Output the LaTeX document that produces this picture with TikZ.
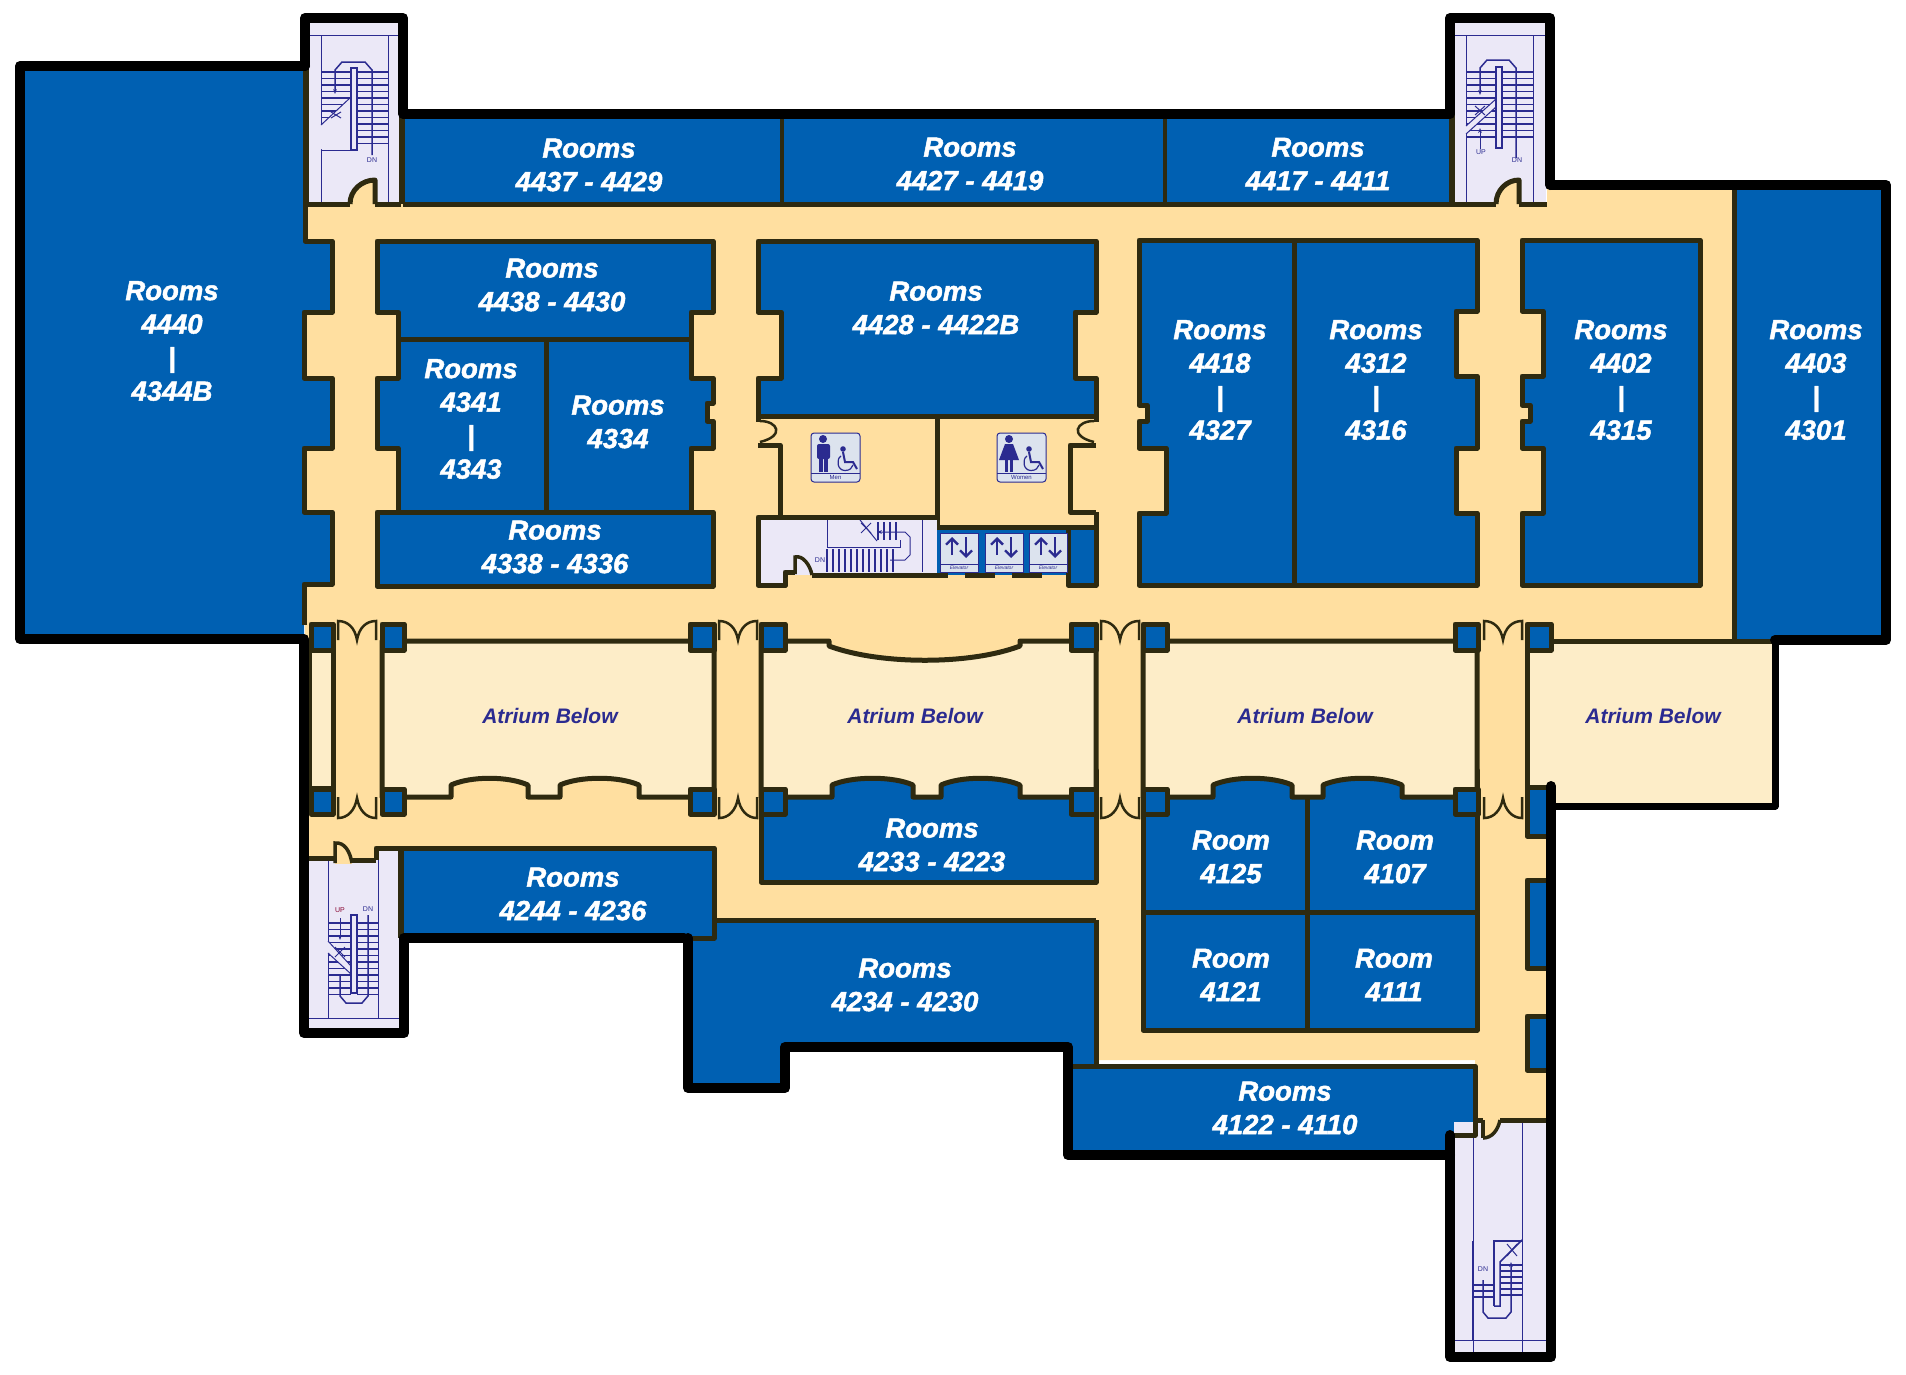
\documentclass[tikz,border=0pt]{standalone}
\usepackage{fontspec}
\usetikzlibrary{arrows.meta}
\newfontfamily\roomfont[BoldItalicFeatures={FakeBold=1.7}]{Liberation Sans}
\newfontfamily\signfont{Liberation Sans}
\definecolor{roomblue}{HTML}{0060B2}
\definecolor{hallyellow}{HTML}{FFDFA0}
\definecolor{atriumcream}{HTML}{FDEDC8}
\definecolor{wallbrown}{HTML}{2E2A10}
\definecolor{stairlav}{HTML}{EBE8F7}
\definecolor{stairblue}{HTML}{2B2B90}
\definecolor{signgray}{HTML}{DCE3EE}
% arch cut into the lower atrium wall
\newcommand{\archcut}[2]{-- (#1,797) -- (#1,785) .. controls (#1-20,776) and (#2+20,776) .. (#2,785) -- (#2,797)}
\begin{document}
\begin{tikzpicture}
    [x=1pt,y=-1pt,
        room/.style={fill=roomblue},
        wall/.style={draw=wallbrown,line width=5pt,line join=round},
        outer/.style={draw=black,line width=10pt,line join=round,line cap=round},
        atrium/.style={fill=atriumcream,wall},
        column/.style={fill=roomblue,wall},
        door/.style={draw=wallbrown,line width=2.5pt},
        thinst/.style={draw=stairblue,line width=1pt},
        tread/.style={draw=stairblue,line width=1.2pt},
        roomtxt/.style={text=white,align=center,inner sep=0pt,font=\roomfont\bfseries\itshape\fontsize{27.5}{33.5}\selectfont},
        atriumtxt/.style={text=stairblue,inner sep=0pt,font=\signfont\bfseries\itshape\fontsize{21}{24}\selectfont},
        tinytxt/.style={text=stairblue,inner sep=0pt,font=\signfont\fontsize{7}{8}\selectfont},
        sign/.style={fill=signgray,draw=stairblue,line width=1pt,rounded corners=3pt},
    ]
\useasboundingbox (0,0) rectangle (1906,1374);

%%%% hall floor
\fill[hallyellow] (305,204) -- (1547,204) -- (1547,185) -- (1734,185) -- (1734,640) -- (1550,640) -- (1550,1122) -- (1475,1122) -- (1475,1060) -- (1096,1060) -- (1096,920) -- (714,920) -- (714,850) -- (376,850) -- (376,860) -- (305,860) -- cycle;

%%%% big rooms
\fill[room] (20,66) -- (305,66) -- (305,241) -- (332,241) -- (332,312) -- (304,312) -- (304,378) -- (332,378) -- (332,448) -- (304,448) -- (304,512) -- (332,512) -- (332,584) -- (304,584) -- (304,640) -- (20,640) -- cycle;
\draw[wall] (305,119) -- (305,241) -- (332,241) -- (332,312) -- (304,312) -- (304,378) -- (332,378) -- (332,448) -- (304,448) -- (304,512) -- (332,512) -- (332,584) -- (304,584) -- (304,625);
\fill[room] (403,114) rectangle (1450,204);
\draw[wall] (403,204) -- (1450,204);
\draw[wall,line width=4pt] (782,114) -- (782,204);
\draw[wall,line width=4pt] (1165,114) -- (1165,204);

\draw[room,wall] (377,241) -- (713,241) -- (713,312) -- (691,312) -- (691,378) -- (713,378) -- (713,403) -- (707,403) -- (707,421) -- (713,421) -- (713,448) -- (691,448) -- (691,512) -- (713,512) -- (713,586) -- (377,586) -- (377,512) -- (398,512) -- (398,448) -- (377,448) -- (377,378) -- (398,378) -- (398,312) -- (377,312) -- cycle;
\draw[wall] (398,339) -- (691,339);
\draw[wall] (546,339) -- (546,512);
\draw[wall] (398,512) -- (691,512);

\draw[room,wall] (758,241) -- (1096,241) -- (1096,312) -- (1075,312) -- (1075,378) -- (1096,378) -- (1096,416) -- (758,416) -- (758,378) -- (781,378) -- (781,312) -- (758,312) -- cycle;
\draw[room,wall] (1139,240) -- (1477,240) -- (1477,311) -- (1456,311) -- (1456,376) -- (1477,376) -- (1477,448) -- (1456,448) -- (1456,513) -- (1477,513) -- (1477,585) -- (1139,585) -- (1139,513) -- (1166,513) -- (1166,448) -- (1139,448) -- (1139,421) -- (1147,421) -- (1147,405) -- (1139,405) -- cycle;
\draw[wall] (1294,240) -- (1294,585);
\draw[room,wall] (1522,240) -- (1700,240) -- (1700,585) -- (1522,585) -- (1522,513) -- (1543,513) -- (1543,448) -- (1522,448) -- (1522,421) -- (1530,421) -- (1530,405) -- (1522,405) -- (1522,376) -- (1543,376) -- (1543,311) -- (1522,311) -- cycle;
\fill[room] (1734,185) rectangle (1886,640);
\draw[wall] (1734,185) -- (1734,641);

%%%% restrooms and core
\draw[door] (760,421) .. controls (778,421) and (785,436) .. (760,442);
\draw[door] (1094,421) .. controls (1076,421) and (1069,436) .. (1094,442);
\draw[wall] (758,416) -- (758,422);
\draw[wall] (1096,416) -- (1096,422);
\draw[wall] (758,445) -- (780,445) -- (780,517);
\draw[wall] (1096,445) -- (1070,445) -- (1070,512) -- (1096,512);
\draw[wall] (937,416) -- (937,575);
\fill[stairlav] (758,517) rectangle (937,575);
\fill[stairlav] (758,575) rectangle (785,585);
\fill[roomblue] (937,528) rectangle (1096,575);
\fill[room] (1068,528) rectangle (1096,585);
\draw[wall] (937,527) -- (1096,527);
\draw[wall] (937,517) -- (758,517) -- (758,585) -- (785,585) -- (785,572) -- (795,572);
\draw[door,line width=3.5pt] (795,574) -- (795,557) .. controls (803,555) and (810,565) .. (812,575);
\fill[hallyellow] (790,577) rectangle (1065,590);
\draw[wall] (812,575) -- (948,575);
\draw[wall] (965,575) -- (995,575);
\draw[wall] (1012,575) -- (1042,575);
\draw[wall] (1068,528) -- (1068,585) -- (1096,585) -- (1096,512);
\draw[wall] (758,585) -- (785,585) -- (785,575);

% central stair
\draw[thinst] (827,520) -- (827,547) -- (900,547) -- (900,540);
\draw[thinst] (922,520) -- (922,572);
\foreach \x in {827,833,...,893} \draw[tread] (\x,549) -- (\x,572);
\foreach \x in {878,884,...,896} \draw[tread] (\x,522) -- (\x,540);
\draw[thinst,-{Stealth[length=5pt]}] (890,560) -- (905,560) -- (910,555) -- (910,537) -- (905,532) -- (877,532);
\draw[thinst] (860,520) -- (877,541);
\draw[thinst] (861,533) -- (871,523);
\draw[thinst] (861,523) -- (871,533);
\node[tinytxt] (dnc) at (820,560) {DN};

% rest room signs
\foreach \x/\t in {811/Men,997/Women}{
  \draw[sign] (\x,433) rectangle (\x+49,482);
  \draw[stairblue,line width=1pt] (\x,473) -- (\x+49,473);
  \node[tinytxt,font=\signfont\fontsize{6}{7}\selectfont] (sign\t) at (\x+24.5,477.5) {\t};
  \fill[stairblue] (\x+32,449) circle (2.8pt);
  \draw[stairblue,line width=2pt] (\x+32,452) -- (\x+34,462) -- (\x+42,462) -- (\x+46,469);
  \draw[stairblue,line width=1.2pt] (\x+30,456) .. controls (\x+25,459) and (\x+26,470.5) .. (\x+34,470.5) .. controls (\x+39,470.5) and (\x+41,468) .. (\x+42,465);
}
\fill[stairblue] (823,439) circle (4pt);
\fill[stairblue,rounded corners=2pt] (817,444) rectangle (830,459);
\fill[stairblue] (819,458) rectangle (823,472);
\fill[stairblue] (824,458) rectangle (828,472);
\fill[stairblue] (1009,439) circle (4pt);
\fill[stairblue] (1005,444) -- (1013,444) -- (1019,460) -- (999,460) -- cycle;
\fill[stairblue] (1005,459) rectangle (1008,472);
\fill[stairblue] (1010,459) rectangle (1013,472);

% elevators
\foreach \x in {940,985,1029}{
  \draw[fill=signgray,draw=stairblue,line width=1pt] (\x,533) rectangle (\x+38,572);
  \draw[stairblue,line width=1pt] (\x,564) -- (\x+38,564);
  \draw[stairblue,line width=2.3pt,-{Straight Barb[length=6pt,width=12pt]}] (\x+12,555) -- (\x+12,537);
  \draw[stairblue,line width=2.3pt,-{Straight Barb[length=6pt,width=12pt]}] (\x+26,537) -- (\x+26,558);
  \node[tinytxt,font=\signfont\itshape\fontsize{5}{6}\selectfont] (elev\x) at (\x+19,568) {Elevator};
}

%%%% lower rooms, then the atrium over them
\draw[room,wall] (761,770) rectangle (1096,882);
\draw[room,wall] (1143,770) rectangle (1477,1030);
\draw[wall] (1307,790) -- (1307,1030);
\draw[wall] (1143,912) -- (1477,912);

\draw[atrium] (309,650) rectangle (333,788);
\draw[atrium] (382,641) -- (714,641) -- (714,797) \archcut{639}{560} \archcut{528}{451} -- (382,797) -- cycle;
\draw[atrium] (761,641) -- (829,641) -- (829,646) .. controls (880,665) and (970,665) .. (1020,646) -- (1020,641) -- (1096,641) -- (1096,797) \archcut{1020}{941} \archcut{913}{832} -- (761,797) -- cycle;
\draw[atrium] (1143,641) -- (1477,641) -- (1477,797) \archcut{1402}{1323} \archcut{1292}{1213} -- (1143,797) -- cycle;
\draw[atrium] (1527,641) rectangle (1775,806);

% columns
\foreach \a/\b in {382/404,690/714,761/785,1071/1096,1143/1167,1455/1478,1527/1551}{
  \draw[column] (\a,624) rectangle (\b,650);
}
\foreach \a/\b in {382/404,690/714,761/785,1071/1096,1143/1167,1455/1478}{
  \draw[column] (\a,789) rectangle (\b,814);
}
\draw[column] (311,624) rectangle (333,650);
\draw[column] (311,789) rectangle (333,814);

% double doors
\foreach \x in {357,738,1120,1503}{
  \draw[door] (\x-19,640) -- (\x-19,621) .. controls (\x-9,621) and (\x-2,628) .. (\x,640) .. controls (\x+2,628) and (\x+9,621) .. (\x+19,621) -- (\x+19,640);
  \draw[door] (\x-19,797) -- (\x-19,818) .. controls (\x-9,818) and (\x-2,810) .. (\x,798) .. controls (\x+2,810) and (\x+9,818) .. (\x+19,818) -- (\x+19,797);
}

%%%% lower corridor rooms
\fill[room] (403,848) rectangle (714,938);
\fill[room] (714,920) -- (1096,920) -- (1096,1070) -- (1068,1070) -- (1068,1047) -- (785,1047) -- (785,1088) -- (688,1088) -- (688,938) -- (714,938) -- cycle;
\fill[room] (1068,1066) -- (1475,1066) -- (1475,1135) -- (1450,1135) -- (1450,1155) -- (1068,1155) -- cycle;
\draw[wall] (1096,920) -- (714,920);
\draw[wall] (376,858) -- (376,848) -- (714,848) -- (714,938) -- (686,938);
\draw[wall] (1096,920) -- (1096,1066);
\draw[wall] (1066,1066) -- (1475,1066) -- (1475,1135) -- (1450,1135) -- (1450,1160);

% bays on the east wall
\foreach \a/\b in {787/836,880/968,1016/1070}{
  \draw[column] (1552,\a) -- (1527,\a) -- (1527,\b) -- (1552,\b);
}

%%%% stairs
% north west
\fill[stairlav] (308,22) rectangle (400,202);
\draw[thinst] (321,35) -- (321,202);
\draw[thinst] (388,35) -- (388,202);
\draw[thinst] (309,35) -- (399,35);
\foreach \y in {72,78.5,...,148}{
  \draw[tread] (321,\y) -- (351,\y);
  \draw[tread] (357,\y) -- (388,\y);
}
\fill[stairlav] (321,125) -- (351,97) -- (351,149) -- (321,149) -- cycle;
\draw[thinst] (321,125) -- (351,97);
\draw[thinst] (321,150) -- (357,150);
\draw[thinst,line width=1.5pt] (351,68) rectangle (357,150);
\draw[thinst,line width=1.5pt,-{Stealth[length=5pt]}] (372,155) -- (372,70) -- (365,62) -- (342,62) -- (335,70) -- (335,94);
\draw[thinst] (331,112) -- (341,118);
\draw[thinst] (331,118) -- (341,112);
\node[tinytxt] (dna) at (372,160) {DN};
\draw[wall,line width=6pt] (306,66) -- (306,204);
\draw[wall,line width=6pt] (402,114) -- (402,204);
\draw[wall,fill=hallyellow] (350,204) .. controls (350,190) and (362,180) .. (375,180) -- (375,204);
\draw[wall] (307,204) -- (350,204);
\draw[wall] (375,204) -- (401,204);

% north east
\fill[stairlav] (1454,22) rectangle (1546,202);
\draw[thinst] (1466,35) -- (1466,202);
\draw[thinst] (1533,35) -- (1533,202);
\draw[thinst] (1455,35) -- (1546,35);
\foreach \y in {72,78.5,...,143}{
  \draw[tread] (1466,\y) -- (1496,\y);
  \draw[tread] (1502,\y) -- (1533,\y);
}
\fill[stairlav] (1466,126) -- (1496,99) -- (1496,107) -- (1466,134) -- cycle;
\draw[thinst] (1466,126) -- (1496,99);
\draw[thinst] (1466,134) -- (1496,107);
\draw[thinst,line width=1.5pt] (1496,67) rectangle (1502,148);
\draw[thinst,line width=1.5pt,-{Stealth[length=5pt]}] (1516,158) -- (1516,68) -- (1509,60) -- (1487,60) -- (1480,68) -- (1480,95);
\draw[thinst,-{Stealth[length=5pt]}] (1480,149) -- (1480,128);
\draw[thinst] (1475,106) -- (1485,115);
\draw[thinst] (1475,115) -- (1485,106);
\node[tinytxt] (upb) at (1481,152) {UP};
\node[tinytxt] (dnb) at (1517,160) {DN};
\draw[wall,line width=6pt] (1452,114) -- (1452,204);
\draw[wall,fill=hallyellow] (1496,204) .. controls (1496,190) and (1507,180) .. (1519,180) -- (1519,204);
\draw[wall] (1450,204) -- (1496,204);
\draw[wall] (1519,204) -- (1547,204);

% south west
\fill[stairlav] (309,860) rectangle (399,1028);
\fill[stairlav] (376,851) rectangle (399,861);
\draw[thinst] (328,860) -- (328,1018);
\draw[thinst] (378,860) -- (378,1018);
\draw[thinst] (309,1018) -- (399,1018);
\foreach \y in {923,929.5,...,997}{
  \draw[tread] (328,\y) -- (351,\y);
  \draw[tread] (357,\y) -- (378,\y);
}
\fill[stairlav] (328,941) -- (351,966) -- (351,974) -- (328,953) -- cycle;
\draw[thinst] (328,941) -- (351,966);
\draw[thinst] (328,953) -- (351,974);
\draw[thinst,line width=1.5pt] (351,915) rectangle (357,993);
\draw[thinst,line width=1.5pt] (368,915) -- (368,996) -- (362,1003) -- (346,1003) -- (340,996) -- (340,975);
\draw[thinst,-{Stealth[length=5pt]}] (340,918) -- (340,940);
\draw[thinst] (335,947) -- (345,957);
\draw[thinst] (335,957) -- (345,947);
\node[tinytxt,text=purple!70!black] (upc) at (340,910) {UP};
\node[tinytxt] (dnd) at (368,909) {DN};
\fill[hallyellow] (335,842) rectangle (352,864);
\draw[door,line width=3.5pt] (335,863) -- (335,843) .. controls (345,842) and (350,852) .. (352,863);
\draw[wall] (305,858) -- (335,858);
\draw[wall] (352,860) -- (376,860);
\draw[wall] (376,848) -- (376,860);
\draw[wall,line width=6pt] (401,851) -- (401,938);

% south east
\fill[stairlav] (1454,1122) rectangle (1547,1352);
\draw[wall] (1475,1066) -- (1475,1135) -- (1450,1135) -- (1450,1160);
\draw[thinst] (1473,1138) -- (1473,1352);
\draw[thinst] (1522,1122) -- (1522,1352);
\draw[thinst] (1455,1340) -- (1547,1340);
\draw[thinst,line width=1.6pt] (1473,1241) -- (1473,1340);
\foreach \y in {1265,1271,...,1296} \draw[tread] (1500,\y) -- (1522,\y);
\foreach \y in {1285,1291,1297} \draw[tread] (1473,\y) -- (1494,\y);
\draw[thinst,line width=1.5pt] (1494,1306) -- (1494,1241) -- (1522,1241);
\draw[thinst,line width=1.5pt] (1494,1306) -- (1500,1306) -- (1500,1262) -- (1522,1240);
\draw[thinst,line width=1.5pt,-{Stealth[length=5pt]}] (1483,1280) -- (1483,1312) -- (1488,1318) -- (1506,1318) -- (1511,1312) -- (1511,1262);
\draw[thinst] (1507,1244) -- (1517,1256);
\draw[thinst] (1507,1256) -- (1517,1244);
\node[tinytxt] (dne) at (1483,1269) {DN};
\fill[hallyellow] (1483,1120) -- (1483,1138) .. controls (1492,1138) and (1498,1130) .. (1500,1120) -- cycle;
\draw[door,line width=3.5pt] (1483,1138) .. controls (1492,1138) and (1498,1130) .. (1500,1120);
\draw[door,line width=3.5pt] (1483,1120) -- (1483,1138);
\draw[wall] (1475,1120) -- (1483,1120);
\draw[wall] (1500,1120) -- (1551,1120);

%%%% outer black walls
\draw[outer] (1450,1135) -- (1450,1357) -- (1551,1357) -- (1551,786);
\draw[outer,line width=7pt] (1551,806) -- (1775,806) -- (1775,640);
\draw[outer] (1775,640) -- (1886,640) -- (1886,185) -- (1551,185);
\draw[outer] (305,66) -- (20,66) -- (20,639) -- (304,639) -- (304,1033) -- (404,1033) -- (404,938) -- (684,938);
\draw[outer] (688,938) -- (688,1088) -- (785,1088) -- (785,1047) -- (1068,1047) -- (1068,1155) -- (1450,1155);
\draw[outer] (305,66) -- (305,18) -- (403,18) -- (403,114) -- (1450,114) -- (1450,18) -- (1550,18) -- (1550,185);

%%%% labels
\node[roomtxt] (r4437) at (589,165) {Rooms\\4437 - 4429};
\node[roomtxt] (r4427) at (970,164) {Rooms\\4427 - 4419};
\node[roomtxt] (r4417) at (1318,164) {Rooms\\4417 - 4411};
\node[roomtxt] (r4440) at (172,341) {Rooms\\4440\\|\\4344B};
\node[roomtxt] (r4438) at (552,285) {Rooms\\4438 - 4430};
\node[roomtxt] (r4428) at (936,308) {Rooms\\4428 - 4422B};
\node[roomtxt] (r4418) at (1220,380) {Rooms\\4418\\|\\4327};
\node[roomtxt] (r4312) at (1376,380) {Rooms\\4312\\|\\4316};
\node[roomtxt] (r4402) at (1621,380) {Rooms\\4402\\|\\4315};
\node[roomtxt] (r4403) at (1816,380) {Rooms\\4403\\|\\4301};
\node[roomtxt] (r4341) at (471,419) {Rooms\\4341\\|\\4343};
\node[roomtxt] (r4334) at (618,422) {Rooms\\4334};
\node[roomtxt] (r4338) at (555,547) {Rooms\\4338 - 4336};
\node[roomtxt] (r4233) at (932,845) {Rooms\\4233 - 4223};
\node[roomtxt] (r4244) at (573,894) {Rooms\\4244 - 4236};
\node[roomtxt] (r4234) at (905,985) {Rooms\\4234 - 4230};
\node[roomtxt] (r4125) at (1231,857) {Room\\4125};
\node[roomtxt] (r4107) at (1395,857) {Room\\4107};
\node[roomtxt] (r4121) at (1231,975) {Room\\4121};
\node[roomtxt] (r4111) at (1394,975) {Room\\4111};
\node[roomtxt] (r4122) at (1285,1108) {Rooms\\4122 - 4110};
\node[atriumtxt] (atra) at (550,716) {Atrium Below};
\node[atriumtxt] (atrb) at (915,716) {Atrium Below};
\node[atriumtxt] (atrc) at (1305,716) {Atrium Below};
\node[atriumtxt] (atrd) at (1653,716) {Atrium Below};
\end{tikzpicture}
\end{document}
